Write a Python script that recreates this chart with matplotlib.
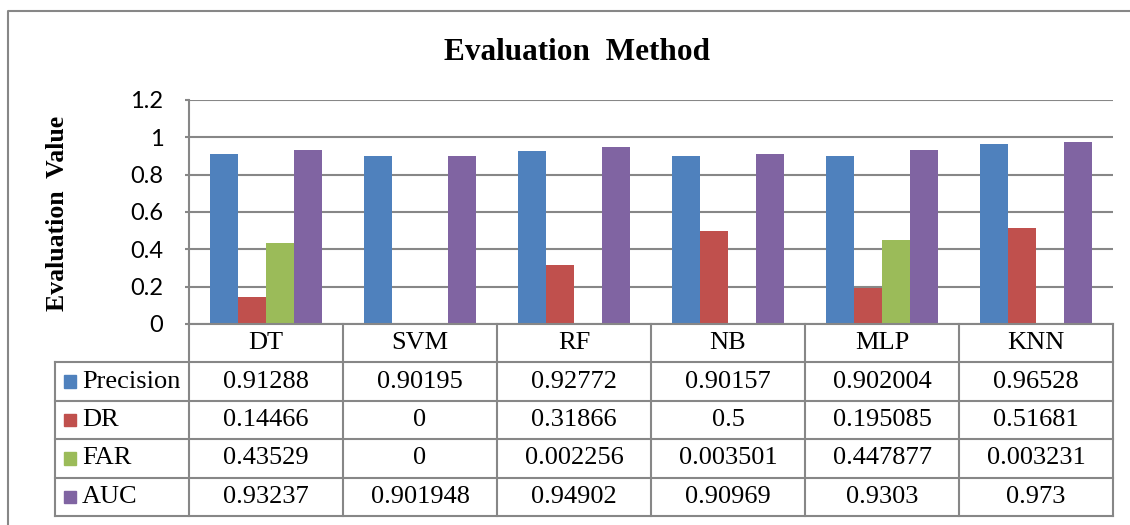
import matplotlib
matplotlib.use("Agg")
import matplotlib.pyplot as plt
from matplotlib.lines import Line2D
from matplotlib.patches import Rectangle
import numpy as np

models = ["DT", "SVM", "RF", "NB", "MLP", "KNN"]
metrics = ["Precision", "DR", "FAR", "AUC"]
precision = [0.91288, 0.90195, 0.92772, 0.90157, 0.902004, 0.96528]
dr = [0.14466, 0, 0.31866, 0.5, 0.195085, 0.51681]
far = [0.43529, 0, 0.002256, 0.003501, 0.447877, 0.003231]
auc = [0.93237, 0.901948, 0.94902, 0.90969, 0.9303, 0.973]
yticks = [0, 0.2, 0.4, 0.6, 0.8, 1.0, 1.2]
ytick_labels = ["0", "0.2", "0.4", "0.6", "0.8", "1", "1.2"]

colors = ["#4F81BD", "#C0504D", "#9BBB59", "#8064A2"]
edge = "#878787"
W, H = 1130, 525

fig = plt.figure(figsize=(W / 100, H / 100), dpi=100)


def fx(px):
    return px / W


def fy(py):
    return 1 - py / H


# bar area
ax = fig.add_axes([fx(189), fy(324), fx(1113 - 189), (324 - 100) / H])
x = np.arange(len(models))
bw = 0.182
for i, vals in enumerate([precision, dr, far, auc]):
    ax.bar(x + (i - 1.5) * bw, vals, bw, color=colors[i], zorder=3)
ax.set_xlim(-0.5, len(models) - 0.5)
ax.set_ylim(0, 1.2)
ax.set_yticks(yticks)
ax.set_yticklabels(ytick_labels, fontfamily="Lato", fontsize=17)
ax.set_xticks([])
ax.yaxis.grid(True, color=edge, linewidth=1.5)
ax.tick_params(axis="y", length=3, width=1.5, color=edge, pad=15.5)
for s in ["top", "right", "bottom"]:
    ax.spines[s].set_visible(False)
ax.spines["left"].set_color(edge)
ax.spines["left"].set_linewidth(1.5)

# data table under the bars
left_ext = -0.5 - (189 - 55) / 154
tab = fig.add_axes([fx(55), fy(516), fx(1113 - 55), (516 - 324) / H])
tab.set_xlim(left_ext, len(models) - 0.5)
tab.set_ylim(5, 0)
tab.axis("off")
lk = dict(color=edge, linewidth=1.5, clip_on=False)
tab.plot([-0.5, len(models) - 0.5], [0, 0], **lk)
for r in range(1, 6):
    tab.plot([left_ext, len(models) - 0.5], [r, r], **lk)
for k in range(len(models) + 1):
    tab.plot([k - 0.5, k - 0.5], [0, 5], **lk)
tab.plot([left_ext, left_ext], [1, 5], **lk)

serif = "Liberation Serif"
for j, m in enumerate(models):
    tab.text(j, 0.5, m, ha="center", va="center", fontfamily=serif, fontsize=19)
rows = [precision, dr, far, auc]
for r, (name, vals) in enumerate(zip(metrics, rows), start=1):
    tab.add_patch(Rectangle((left_ext + 9 / 154, r + 0.5 - 0.16), 12 / 154, 0.32,
                            color=colors[r - 1], clip_on=False))
    tab.text(left_ext + 27 / 154, r + 0.5, name, ha="left", va="center",
             fontfamily=serif, fontsize=19)
    for j, v in enumerate(vals):
        tab.text(j, r + 0.5, f"{v:g}", ha="center", va="center",
                 fontfamily=serif, fontsize=19)

fig.text(fx(577), fy(53), "Evaluation  Method", ha="center", va="center",
         fontfamily=serif, fontweight="bold", fontsize=22.5)
fig.text(fx(58), fy(213), "Evaluation  Value", ha="center", va="center",
         rotation=90, fontfamily=serif, fontweight="bold", fontsize=18.5)

# chart frame
fig.add_artist(Line2D([fx(8), fx(8), fx(1140)], [fy(540), fy(11), fy(11)],
                      color=edge, linewidth=1.5))

fig.savefig("out.png", dpi=100)
